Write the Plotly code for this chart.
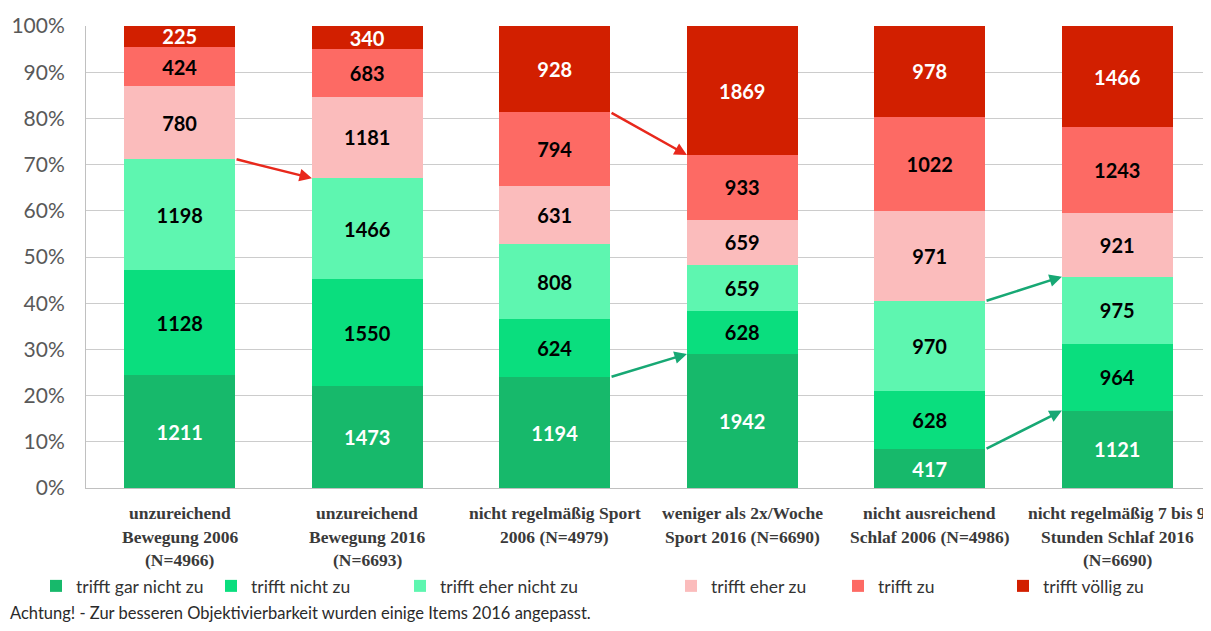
import plotly.graph_objects as go
import numpy as np

categories = [
    "unzureichend<br>Bewegung 2006<br>(N=4966)",
    "unzureichend<br>Bewegung 2016<br>(N=6693)",
    "nicht regelmäßig Sport<br>2006 (N=4979)",
    "weniger als 2x/Woche<br>Sport 2016 (N=6690)",
    "nicht ausreichend<br>Schlaf 2006 (N=4986)",
    "nicht regelmäßig 7 bis 9<br>Stunden Schlaf 2016<br>(N=6690)",
]
series_names = [
    "trifft gar nicht zu",
    "trifft nicht zu",
    "trifft eher nicht zu",
    "trifft eher zu",
    "trifft zu",
    "trifft völlig zu",
]
trifft_gar_nicht_zu = [1211, 1473, 1194, 1942, 417, 1121]
trifft_nicht_zu = [1128, 1550, 624, 628, 628, 964]
trifft_eher_nicht_zu = [1198, 1466, 808, 659, 970, 975]
trifft_eher_zu = [780, 1181, 631, 659, 971, 921]
trifft_zu = [424, 683, 794, 933, 1022, 1243]
trifft_voellig_zu = [225, 340, 928, 1869, 978, 1466]
y_ticks = [0, 10, 20, 30, 40, 50, 60, 70, 80, 90, 100]
footnote = "Achtung! - Zur besseren Objektivierbarkeit wurden einige Items 2016 angepasst."

series = [trifft_gar_nicht_zu, trifft_nicht_zu, trifft_eher_nicht_zu,
          trifft_eher_zu, trifft_zu, trifft_voellig_zu]
colors = ["#17b96b", "#0ade7e", "#5ef6b0", "#fbbcbc", "#fd6a64", "#d21f00"]
text_colors = ["white", "black", "black", "black", "black", "white"]

OFF = 8  # page body margin
# legend item text start positions (screen px) in the reference
legend_text_px = [78, 253, 442, 713, 880, 1045]

W, H = 1211 - OFF, 631 - OFF
L, R, T = 86 - OFF, 0, 26 - OFF
B = H - (488 - OFF)
pw = W - L - R
ph = H - T - B

fig = go.Figure()
for i, (name, vals) in enumerate(zip(series_names, series)):
    lg = "legend" if i == 0 else f"legend{i+1}"
    fig.add_trace(go.Bar(
        x=list(range(len(categories))), y=vals, name=name,
        marker=dict(color=colors[i], line=dict(width=0)),
        text=[str(v) for v in vals], texttemplate="%{text}",
        textposition="inside", insidetextanchor="middle",
        textfont=dict(family="Lato", size=20, color=text_colors[i], weight="bold"),
        legend=lg, hoverinfo="skip", showlegend=True,
    ))

legends = {}
for i in range(6):
    key = "legend" if i == 0 else f"legend{i+1}"
    legends[key] = dict(
        xref="container", yref="container",
        x=(legend_text_px[i] - OFF - 42) / W, xanchor="left",
        y=1 - (586 - OFF) / H, yanchor="middle",
        orientation="h", bgcolor="rgba(0,0,0,0)", borderwidth=0,
        font=dict(family="Lato", size=17.5, color="#333333"),
        itemwidth=30,
    )

# cumulative percentages for arrows
arr = np.array(series, dtype=float)
totals = arr.sum(axis=0)
cum = np.cumsum(arr, axis=0) / totals * 100

hw = 0.295
arrows = [
    (0, 1, 2, "#e8281c"),
    (2, 3, 4, "#e8281c"),
    (2, 3, 0, "#17a874"),
    (4, 5, 2, "#17a874"),
    (4, 5, 0, "#17a874"),
]
annotations = []
for a, b, lvl, col in arrows:
    annotations.append(dict(
        x=b - hw, y=cum[lvl, b], ax=a + hw, ay=cum[lvl, a],
        xref="x", yref="y", axref="x", ayref="y",
        showarrow=True, arrowhead=2, arrowsize=1, arrowwidth=2.5,
        arrowcolor=col, text="", standoff=0, startstandoff=0,
    ))

# category labels (multi-line, custom spacing)
for ci, cat in enumerate(categories):
    for li, line in enumerate(cat.split("<br>")):
        annotations.append(dict(
            x=ci, y=0, xref="x", yref="paper", yanchor="middle",
            yshift=-(513 - 488) - li * 23.5,
            text=line, showarrow=False,
            font=dict(family="Liberation Serif", size=17.5, color="#3a3a3a", weight="bold"),
        ))

annotations.append(dict(
    x=((8 - OFF) - L) / pw, y=-((613 - OFF) - (T + ph)) / ph,
    xref="paper", yref="paper",
    xanchor="left", yanchor="middle", text=footnote, showarrow=False,
    font=dict(family="Lato", size=16.5, color="#2a2a2a"),
))

fig.update_layout(
    width=W, height=H,
    margin=dict(l=L, r=R, t=T, b=B, autoexpand=False),
    barmode="stack", barnorm="percent", bargap=0.41,
    plot_bgcolor="white", paper_bgcolor="white",
    annotations=annotations,
    uniformtext=dict(minsize=20, mode="show"),
    showlegend=True,
    **legends,
)
fig.update_xaxes(
    type="linear", range=[-0.5, len(categories) - 0.5],
    showticklabels=False, showgrid=False, zeroline=False,
    showline=True, linecolor="#c0c0c0", linewidth=1, ticks="",
)
fig.update_yaxes(
    range=[0, 100], tickvals=y_ticks, ticktext=[f"{v}%" for v in y_ticks],
    showgrid=True, gridcolor="#cccccc", gridwidth=1, zeroline=False,
    showline=True, linecolor="#c0c0c0", linewidth=1,
    tickfont=dict(family="Lato", size=21, color="#595959"),
    ticks="outside", ticklen=0, ticklabelstandoff=16,
)

fig.write_html("out.html")
